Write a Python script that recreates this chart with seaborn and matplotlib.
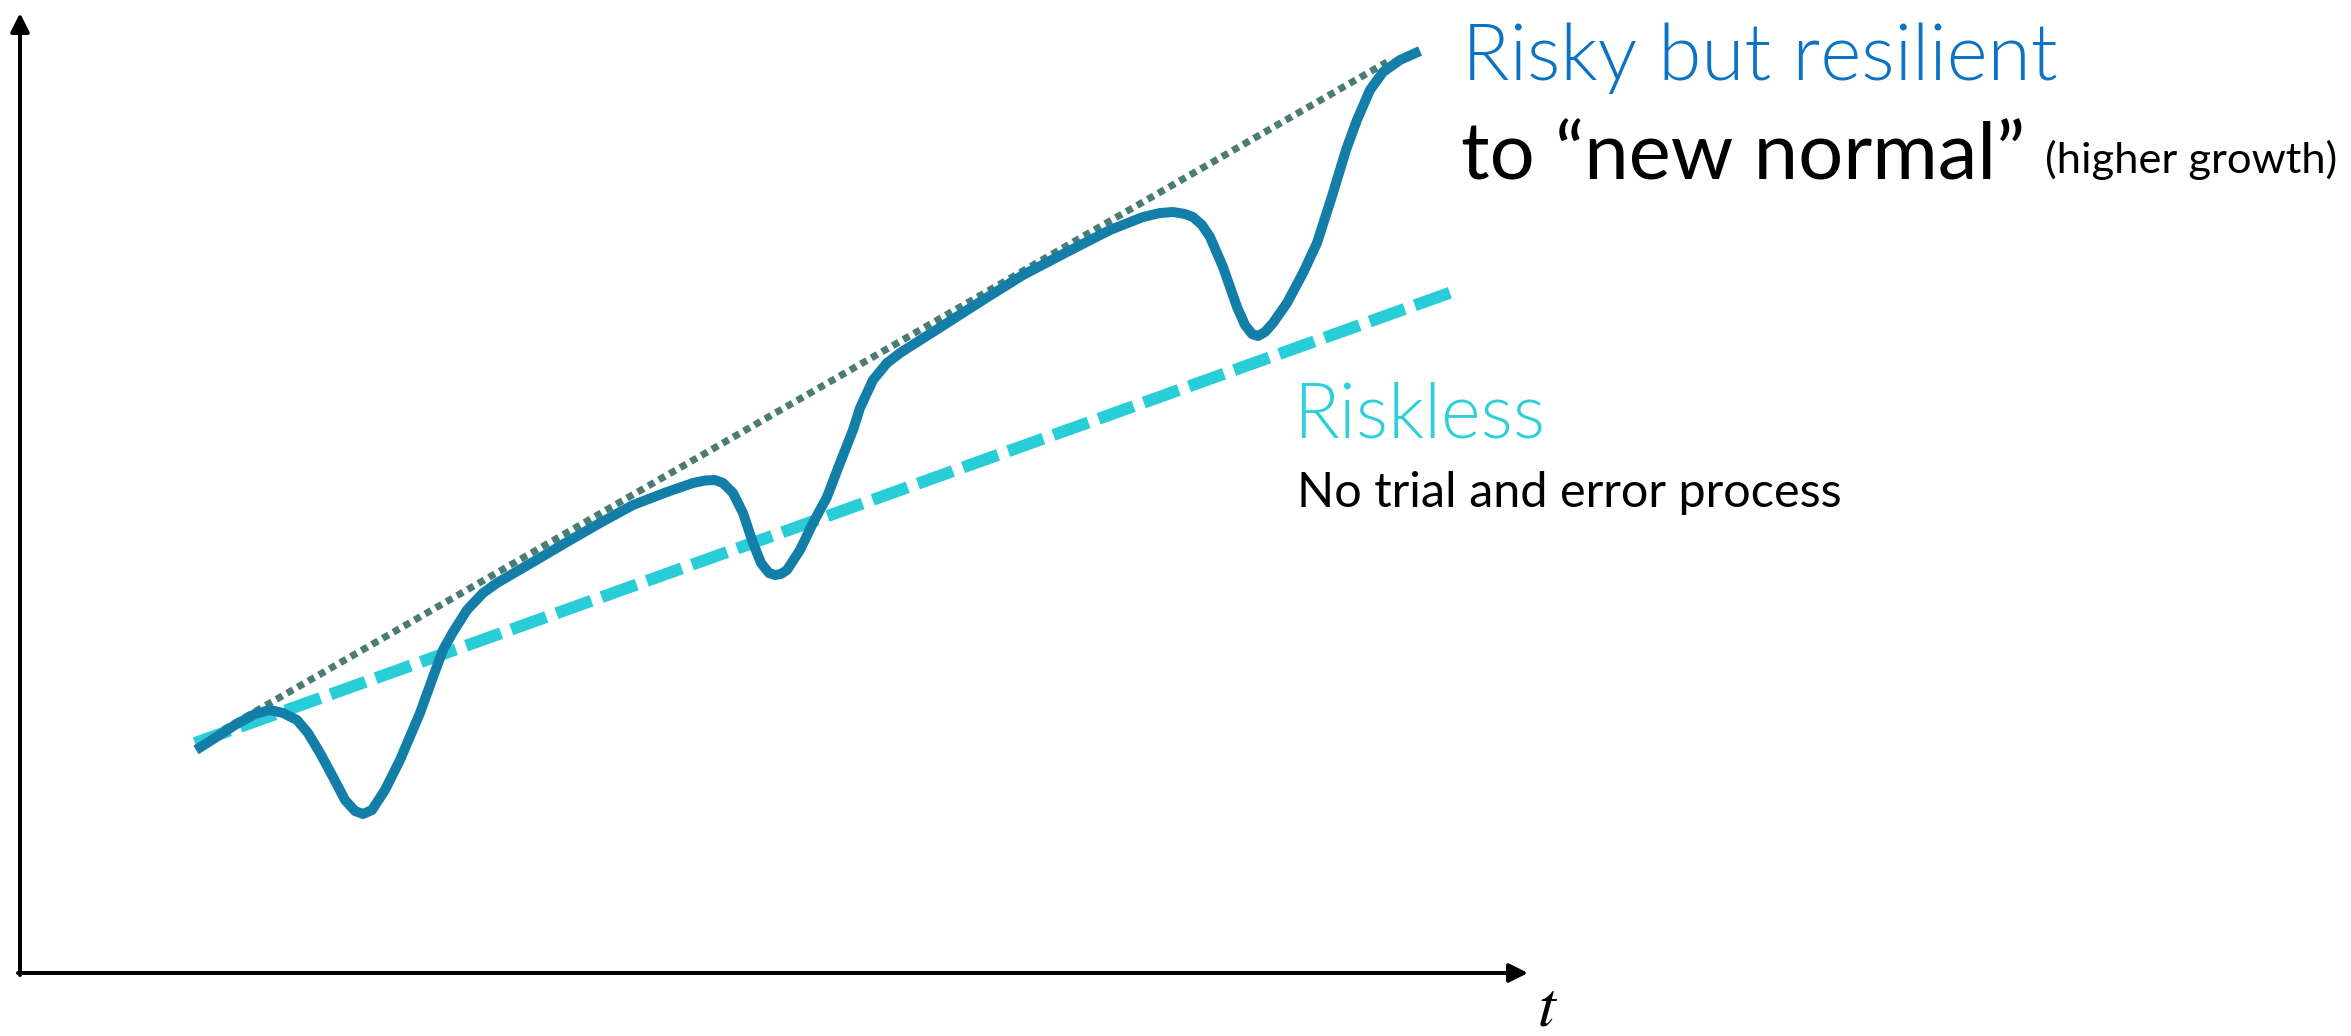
import matplotlib
matplotlib.use("Agg")
import matplotlib.pyplot as plt
import seaborn as sns
import pandas as pd

# Risky-but-resilient path (time, level)
risky_t = [17.6, 19.5, 21.5, 23.5, 25.0, 26.3, 27.7, 28.8, 30.0, 31.3, 32.5, 33.5,
           34.3, 35.2, 36.5, 38.0, 40.0, 41.3, 42.3, 43.3, 44.7, 46.3, 47.7, 51.3,
           54.7, 58.0, 61.3, 64.7, 67.3, 68.5, 69.5, 70.3, 71.3, 72.3, 73.3, 74.1,
           74.9, 75.5, 76.1, 76.7, 78.0, 79.3, 80.7, 82.0, 83.3, 84.0, 85.3, 86.7,
           88.0, 91.3, 96.3, 100.3, 104.7, 109.0, 112.3, 114.0, 115.3, 116.5, 117.3,
           118.2, 119.0, 120.3, 121.7, 122.5, 123.2, 123.8, 124.5, 125.3, 126.7,
           128.3, 129.7, 131.3, 132.6, 133.7, 135.0, 136.3, 138.0, 140.0]
risky_v = [22.3, 23.5, 24.8, 25.9, 26.3, 26.0, 25.3, 24.0, 22.0, 19.6, 17.3, 16.2,
           15.9, 16.3, 18.3, 21.3, 26.0, 29.6, 32.3, 34.1, 36.3, 38.0, 39.0, 41.1,
           43.1, 45.0, 46.8, 48.1, 49.0, 49.25, 49.3, 49.0, 48.0, 46.0, 43.0, 41.0,
           40.0, 39.8, 39.9, 40.3, 42.3, 45.0, 47.6, 51.0, 54.3, 56.5, 59.3, 61.0,
           62.0, 64.1, 67.3, 69.8, 72.1, 74.3, 75.6, 76.0, 76.1, 75.9, 75.6,
           74.8, 73.6, 70.6, 66.6, 64.8, 63.9, 63.7, 64.1, 65.0, 67.0,
           70.0, 73.0, 78.0, 82.3, 85.3, 88.3, 90.1, 91.3, 92.2]

# Higher-growth trend touched by the risky path
trend_t = [18.2, 136.7]
trend_v = [23.1, 91.1]

# Riskless path
riskless_t = [17.5, 143.2]
riskless_v = [23.0, 68.1]

label_risky = "Risky but resilient"
label_normal = "to \u201cnew normal\u201d"
label_growth = "(higher growth)"
label_riskless = "Riskless"
label_process = "No trial and error process"

C_RISKY = "#137fa8"
C_TREND = "#4b7b75"
C_RISKLESS = "#29cdd8"
C_RISKY_TXT = "#0b72c4"
C_RISKLESS_TXT = "#2dcfd9"

sns.set_theme(style="white")
plt.rcParams["font.family"] = ["Lato", "DejaVu Sans"]
plt.rcParams["mathtext.fontset"] = "stix"

DPI = 100
fig = plt.figure(figsize=(23.51, 10.36), dpi=DPI)
ax = fig.add_axes([0, 0, 1, 1])
ax.set_xlim(-2.0, 233.1)
ax.set_ylim(-6.3, 97.3)
ax.axis("off")

px = 72.0 / DPI  # points per pixel

df_trend = pd.DataFrame({"t": trend_t, "v": trend_v})
df_riskless = pd.DataFrame({"t": riskless_t, "v": riskless_v})
df_risky = pd.DataFrame({"t": risky_t, "v": risky_v})

sns.lineplot(data=df_trend, x="t", y="v", ax=ax, color=C_TREND,
             linewidth=7 * px, linestyle=(0, (1.0, 0.75)))
ax.lines[-1].set_dash_capstyle("butt")

sns.lineplot(data=df_riskless, x="t", y="v", ax=ax, color=C_RISKLESS,
             linewidth=12 * px, linestyle=(0, (3.1, 0.9)))
ax.lines[-1].set_dash_capstyle("butt")

sns.lineplot(data=df_risky, x="t", y="v", ax=ax, color=C_RISKY,
             linewidth=10 * px)
ax.lines[-1].set_solid_joinstyle("round")
ax.lines[-1].set_solid_capstyle("butt")

# Axes drawn as arrows
arrow = dict(arrowstyle="-|>,head_length=0.8,head_width=0.4", color="black",
             lw=4 * px, mutation_scale=14, shrinkA=0, shrinkB=0)
ax.annotate("", xy=(0.0, 96.0), xytext=(0.0, -0.2), arrowprops=arrow)
ax.annotate("", xy=(150.8, 0.0), xytext=(-0.2, 0.0), arrowprops=arrow)
ax.text(151.7, -5.3, r"$t$", fontsize=46, color="black", ha="left", va="baseline")

t1 = ax.text(144.2, 89.3, label_risky, color=C_RISKY_TXT, fontsize=50,
             fontweight=300, ha="left", va="baseline")
t2 = ax.text(144.1, 79.3, label_normal, color="black", fontsize=46,
             ha="left", va="baseline")
t3 = ax.text(202.5, 80.0, label_growth, color="black", fontsize=24,
             ha="left", va="baseline")
t4 = ax.text(127.3, 53.5, label_riskless, color=C_RISKLESS_TXT, fontsize=50,
             fontweight=300, ha="left", va="baseline")
t5 = ax.text(127.7, 46.6, label_process, color="black", fontsize=30,
             ha="left", va="baseline")

# Scale each label to its printed width (pixels)
fig.canvas.draw()
renderer = fig.canvas.get_renderer()
for txt, width_px in [(t1, 596), (t2, 564), (t3, 292), (t4, 252), (t5, 545)]:
    w = txt.get_window_extent(renderer).width
    txt.set_fontsize(txt.get_fontsize() * width_px / w)

fig.savefig("out.png", dpi=DPI, facecolor="white")
